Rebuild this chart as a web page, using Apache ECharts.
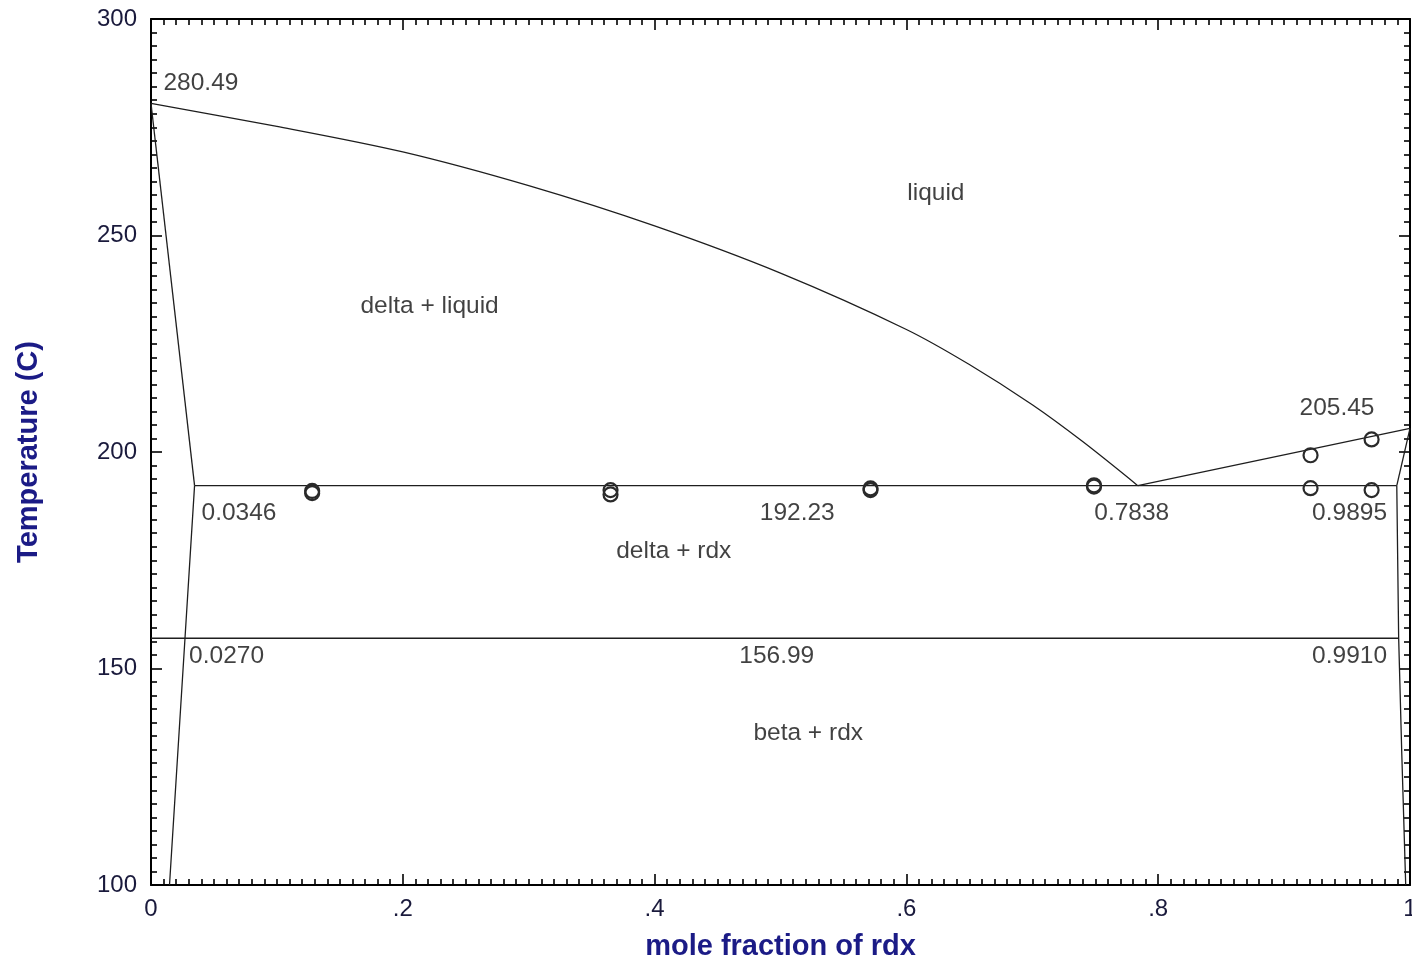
<!DOCTYPE html>
<html>
<head>
<meta charset="utf-8">
<title>Phase diagram: delta / rdx</title>
<script src="https://cdn.jsdelivr.net/npm/echarts@6/dist/echarts.min.js"></script>
<style>
  html, body { margin: 0; padding: 0; background: #ffffff; }
  #chart { width: 1412px; height: 958px; }
</style>
</head>
<body>
<div id="chart"></div>
<script>
// Axis ranges and tick settings
const xTicks = [0, 0.2, 0.4, 0.6, 0.8, 1];
const yTicks = [100, 150, 200, 250, 300];

// Invariant temperatures (C) and compositions (mole fraction of rdx)
const meltDelta = 280.49;
const meltRdx = 205.45;
const eutecticT = 192.23;
const eutoidT = 156.99;
const eutecticLiquid = 0.7838;
const eutecticDelta = 0.0346;
const eutecticRdx = 0.9895;
const eutoidDelta = 0.0270;
const eutoidRdx = 0.9910;

// Liquidus on the delta side, from pure component down to the eutectic
const liquidusDelta = [
  [0.00, meltDelta], [0.10, 275.2], [0.20, 269.3], [0.30, 261.5],
  [0.40, 252.2], [0.50, 241.3], [0.60, 228.3], [0.65, 220.2],
  [0.70, 210.9], [0.74, 202.4], [eutecticLiquid, eutecticT]
];
// Liquidus on the rdx side
const liquidusRdx = [[eutecticLiquid, eutecticT], [1.0, meltRdx]];
// Delta solidus and solvus
const solidusDelta = [[0.0, meltDelta], [eutecticDelta, eutecticT]];
const solvusDelta = [[eutecticDelta, eutecticT], [eutoidDelta, eutoidT], [0.0147, 100]];
// Rdx solidus and solvus
const solidusRdx = [[eutecticRdx, eutecticT], [1.0, meltRdx]];
const solvusRdx = [[eutecticRdx, eutecticT], [eutoidRdx, eutoidT], [0.9935, 130], [0.9966, 100]];
// Isotherms
const eutecticLine = [[eutecticDelta, eutecticT], [eutecticRdx, eutecticT]];
const eutoidLine = [[0.0, eutoidT], [eutoidRdx, eutoidT]];

// Measured thermal arrests
const measuredX = [0.128, 0.128, 0.365, 0.365, 0.5715, 0.5715, 0.749, 0.749, 0.921, 0.9695, 0.921, 0.9695];
const measuredT = [191.0, 190.5, 191.2, 190.2, 191.6, 191.2, 192.3, 192.0, 199.25, 202.9, 191.65, 191.2];

// Annotation text anchored in data coordinates [x, T, text, align]
const annotations = [
  [0.0099, 285.1, '280.49', 'left'],
  [0.6234, 259.7, 'liquid', 'center'],
  [0.2213, 233.6, 'delta + liquid', 'center'],
  [0.942, 210.1, '205.45', 'center'],
  [0.0699, 185.9, '0.0346', 'center'],
  [0.5133, 185.9, '192.23', 'center'],
  [0.779, 185.9, '0.7838', 'center'],
  [0.952, 185.9, '0.9895', 'center'],
  [0.4152, 177.1, 'delta + rdx', 'center'],
  [0.060, 152.9, '0.0270', 'center'],
  [0.497, 152.9, '156.99', 'center'],
  [0.952, 152.9, '0.9910', 'center'],
  [0.522, 135.1, 'beta + rdx', 'center']
];

const FONT = "'Liberation Sans', Arial, Helvetica, sans-serif";
const LINE_COLOR = '#1e1e1e';
const TITLE_COLOR = '#1b1b86';
const TICK_COLOR = '#1a1a3c';

function fmtX(v) {
  if (Math.abs(v) < 1e-9) return '0';
  if (Math.abs(v - 1) < 1e-9) return '1';
  return (+v.toFixed(1)).toString().replace(/^0/, '');
}

function curve(name, data, smooth) {
  return {
    name: name,
    type: 'line',
    data: data,
    symbol: 'none',
    smooth: smooth || false,
    lineStyle: { color: LINE_COLOR, width: 1.3 },
    silent: true,
    z: 3
  };
}

const tickCommon = {
  axisLine: { show: true, onZero: false, lineStyle: { color: '#000', width: 2 } },
  axisTick: { show: true, inside: true, length: 11, lineStyle: { color: '#000', width: 1.6 } },
  minorTick: { show: true, length: 6, lineStyle: { color: '#000', width: 1.6 } },
  splitLine: { show: false },
  minorSplitLine: { show: false }
};

const chart = echarts.init(document.getElementById('chart'), null, { renderer: 'canvas' });

const option = {
  backgroundColor: '#ffffff',
  animation: false,
  textStyle: { fontFamily: FONT },
  grid: { left: 151, right: 2, top: 19, bottom: 73, containLabel: false, outerBoundsMode: 'none' },
  xAxis: [
    Object.assign({
      type: 'value', position: 'bottom',
      min: xTicks[0], max: xTicks[xTicks.length - 1], interval: 0.2,
      name: 'mole fraction of rdx', nameLocation: 'middle', nameGap: 47,
      nameTextStyle: { fontFamily: FONT, fontSize: 29, fontWeight: 'bold', color: TITLE_COLOR },
      axisLabel: { show: true, margin: 12, fontSize: 24, color: TICK_COLOR, fontFamily: FONT, formatter: fmtX, hideOverlap: false }
    }, tickCommon, { minorTick: Object.assign({}, tickCommon.minorTick, { splitNumber: 20 }) }),
    Object.assign({
      type: 'value', position: 'top',
      min: xTicks[0], max: xTicks[xTicks.length - 1], interval: 0.2,
      axisLabel: { show: false }
    }, tickCommon, { minorTick: Object.assign({}, tickCommon.minorTick, { splitNumber: 20 }) })
  ],
  yAxis: [
    Object.assign({
      type: 'value', position: 'left',
      min: yTicks[0], max: yTicks[yTicks.length - 1], interval: 50,
      name: 'Temperature (C)', nameLocation: 'middle', nameRotate: 90, nameGap: 108,
      nameTextStyle: { fontFamily: FONT, fontSize: 29, fontWeight: 'bold', color: TITLE_COLOR },
      axisLabel: { show: true, margin: 14, fontSize: 24, color: TICK_COLOR, fontFamily: FONT }
    }, tickCommon, { minorTick: Object.assign({}, tickCommon.minorTick, { splitNumber: 16 }) }),
    Object.assign({
      type: 'value', position: 'right',
      min: yTicks[0], max: yTicks[yTicks.length - 1], interval: 50,
      axisLabel: { show: false }
    }, tickCommon, { minorTick: Object.assign({}, tickCommon.minorTick, { splitNumber: 16 }) })
  ],
  series: [
    curve('liquidus delta', liquidusDelta, 0.3),
    curve('liquidus rdx', liquidusRdx),
    curve('solidus delta', solidusDelta),
    curve('solvus delta', solvusDelta),
    curve('solidus rdx', solidusRdx),
    curve('solvus rdx', solvusRdx),
    curve('eutectic', eutecticLine),
    curve('eutectoid', eutoidLine),
    {
      name: 'measured',
      type: 'scatter',
      data: measuredX.map((x, i) => [x, measuredT[i]]),
      symbol: 'circle',
      symbolSize: 14,
      itemStyle: { color: 'rgba(255,255,255,0)', borderColor: '#2a2a2a', borderWidth: 2.2, opacity: 1 },
      silent: true,
      z: 4
    },
    {
      name: 'annotations',
      type: 'scatter',
      data: annotations.map(a => ({
        value: [a[0], a[1]],
        label: { align: a[3] }
      })),
      symbolSize: 0,
      silent: true,
      label: {
        show: true,
        position: 'inside',
        fontFamily: FONT,
        fontSize: 24.5,
        color: '#111111',
        verticalAlign: 'middle',
        formatter: p => annotations[p.dataIndex][2]
      },
      z: 5
    }
  ]
};

chart.setOption(option);
</script>
</body>
</html>
